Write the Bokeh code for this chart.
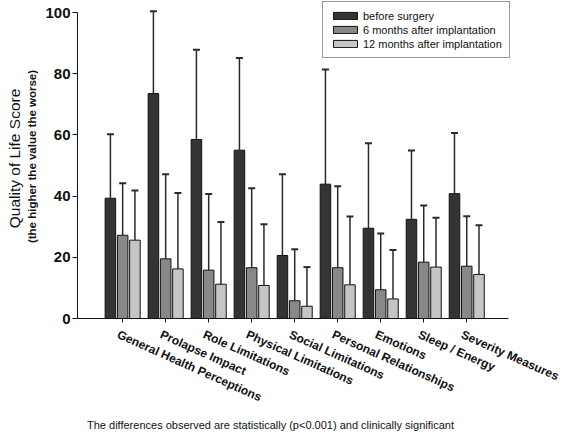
import numpy as np
from bokeh.plotting import figure
from bokeh.models import (Range1d, ColumnDataSource, Legend, LegendItem, Label, LabelSet,
                          FixedTicker)
from bokeh.core.properties import value
from bokeh.embed import file_html
from bokeh.resources import INLINE

categories = ["General Health Perceptions", "Prolapse Impact", "Role Limitations",
              "Physical Limitations", "Social Limitations", "Personal Relationships",
              "Emotions", "Sleep / Energy", "Severity Measures"]
series_names = ["before surgery", "6 months after implantation", "12 months after implantation"]
before_mean = [39.3, 73.5, 58.5, 55.0, 20.6, 43.9, 29.5, 32.4, 40.8]
before_sd = [20.9, 26.9, 29.3, 30.1, 26.5, 37.5, 27.8, 22.5, 19.8]
six_mean = [27.2, 19.5, 15.8, 16.6, 5.8, 16.6, 9.4, 18.4, 17.1]
six_sd = [17.0, 27.6, 24.9, 26.0, 16.8, 26.6, 18.4, 18.5, 16.3]
twelve_mean = [25.6, 16.2, 11.2, 10.8, 4.0, 11.0, 6.4, 16.8, 14.4]
twelve_sd = [16.2, 24.8, 20.3, 20.0, 12.8, 22.3, 16.0, 16.1, 16.1]
y_ticks = [0, 20, 40, 60, 80, 100]

FONT = "Liberation Sans"
colors = ["#343434", "#888888", "#c5c5c5"]
offsets = [-0.285, 0.0, 0.285]
bar_w = 0.245

W, H = 567, 435
PXX = 43.01   # px per category
PXY = 3.06    # px per score unit
X0 = -1.05 - 77 / PXX
Y1 = 318 / PXY

p = figure(width=W, height=H, output_backend="svg", toolbar_location=None,
           x_range=Range1d(X0, X0 + W / PXX), y_range=Range1d(Y1 - H / PXY, Y1),
           min_border=0, min_border_left=0, min_border_right=0,
           min_border_top=0, min_border_bottom=0)
p.outline_line_color = None
p.grid.visible = False

idx = np.arange(len(categories))
renderers = []
for mean, sd, col, off in zip([before_mean, six_mean, twelve_mean],
                              [before_sd, six_sd, twelve_sd], colors, offsets):
    m = np.array(mean)
    up = m + np.array(sd)
    xs = idx + off
    src = ColumnDataSource(dict(x=xs, top=m, up=up))
    r = p.vbar(x="x", top="top", bottom=0, width=bar_w, source=src,
               fill_color=col, line_color="#111111", line_width=1)
    p.segment(x0="x", y0="top", x1="x", y1="up", source=src,
              line_color="#2a2a2a", line_width=1.5)
    p.scatter(x="x", y="up", source=src, marker="dash", size=7,
              line_color="#2a2a2a", line_width=2)
    renderers.append(r)

# axes (fixed inside the frame)
p.xaxis.fixed_location = 0
p.xaxis.ticker = FixedTicker(ticks=list(idx))
p.xaxis.major_label_overrides = {int(i): "" for i in idx}
p.xaxis.bounds = (-1.05, 8.97)
p.xaxis.major_tick_out = 4
p.xaxis.major_tick_in = 0
p.xaxis.minor_tick_line_color = None
p.xaxis.axis_line_color = "#111111"
p.xaxis.major_tick_line_color = "#111111"

p.yaxis.fixed_location = -1.05
p.yaxis.ticker = FixedTicker(ticks=y_ticks)
p.yaxis.bounds = (0, 100)
p.yaxis.major_tick_out = 5
p.yaxis.major_tick_in = 0
p.yaxis.minor_tick_line_color = None
p.yaxis.major_label_standoff = 2
p.yaxis.major_label_text_font = FONT
p.yaxis.major_label_text_font_style = "bold"
p.yaxis.major_label_text_font_size = "15px"
p.yaxis.major_label_text_color = "#111111"
p.yaxis.axis_line_color = "#111111"
p.yaxis.major_tick_line_color = "#111111"

# rotated category labels
lab_src = ColumnDataSource(dict(x=idx.astype(float), y=np.zeros(len(idx)), text=categories))
p.add_layout(LabelSet(x="x", y="y", text="text", source=lab_src, angle=-0.42,
                      x_offset=-2, y_offset=-9, text_align="left", text_baseline="top",
                      text_font=value(FONT), text_font_style="bold",
                      text_font_size=value("12px"), text_color="#111111"))

# y titles
p.add_layout(Label(x=X0 + 14 / PXX, y=Y1 - 158 / PXY, text="Quality of Life Score",
                   angle=np.pi / 2, text_align="center", text_baseline="middle",
                   text_font=FONT, text_font_size="15.5px", text_color="#111111"))
p.add_layout(Label(x=X0 + 31 / PXX, y=Y1 - 156 / PXY, text="(the higher the value the worse)",
                   angle=np.pi / 2, text_align="center", text_baseline="middle",
                   text_font=FONT, text_font_style="bold", text_font_size="11.5px",
                   text_color="#111111"))

# footnote
p.add_layout(Label(x=X0 + 270 / PXX, y=Y1 - 424 / PXY,
                   text="The differences observed are statistically (p<0.001) and clinically significant",
                   text_align="center", text_baseline="middle", text_font=FONT,
                   text_font_size="11px", text_color="#111111"))

legend = Legend(items=[LegendItem(label=n, renderers=[r]) for n, r in zip(series_names, renderers)],
                location=(322, H - 58), margin=0, padding=7, spacing=1,
                label_height=13, glyph_width=30, glyph_height=9, label_standoff=3,
                label_text_font=FONT, label_text_font_size="11px", label_text_color="#111111",
                border_line_color="#333333", border_line_width=1, background_fill_alpha=1)
p.add_layout(legend)

open("out.html", "w").write(file_html(p, INLINE))
